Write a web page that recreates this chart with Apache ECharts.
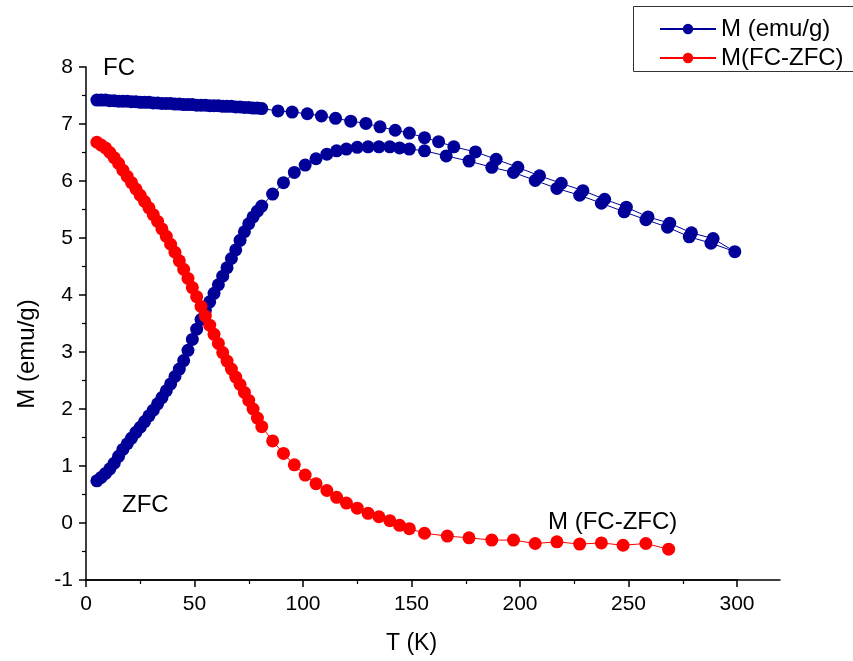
<!DOCTYPE html>
<html>
<head>
<meta charset="utf-8">
<script src="https://cdn.jsdelivr.net/npm/echarts@6/dist/echarts.min.js"></script>
<style>
html,body{margin:0;padding:0;background:#fff;}
#chart{width:853px;height:661px;}
</style>
</head>
<body>
<div id="chart"></div>
<script>
// ---- data ----
const denseT = [5,7,9,11,13,15,17,19,21,23,25,27,29,31,33,35,37,39,41,43,45,47,49,51,53,55,57,59,61,63,65,67,69,71,73,75,77,79,81];

const zfcT = denseT.concat([86,91,96,101,106,111,115.5,120,125,130,135,140,144.5,149,156,166,176.5,187,197,207,217,227.5,237.5,248,258,268,278,288,299]);
const zfcM = [0.74,0.80,0.87,0.95,1.05,1.17,1.29,1.39,1.49,1.59,1.68,1.78,1.88,1.98,2.09,2.20,2.32,2.44,2.57,2.70,2.85,3.03,3.22,3.40,3.57,3.73,3.88,4.03,4.18,4.33,4.48,4.64,4.79,4.96,5.11,5.25,5.37,5.47,5.56,
  5.77,5.97,6.15,6.28,6.39,6.47,6.53,6.56,6.59,6.60,6.60,6.60,6.58,6.56,6.53,6.44,6.35,6.24,6.15,6.01,5.87,5.75,5.61,5.46,5.32,5.19,5.02,4.91,4.76];

const fcT = denseT.concat([88.5,95,102,108.5,115,122,129,135.5,142.5,149,156,162.5,169.5,179.5,189,199,209,219,229,239,249,259,269,279,289]);
const fcM = [7.42,7.42,7.42,7.41,7.41,7.40,7.40,7.40,7.39,7.39,7.38,7.38,7.38,7.37,7.37,7.36,7.36,7.36,7.35,7.35,7.34,7.34,7.34,7.33,7.33,7.33,7.32,7.32,7.32,7.31,7.31,7.31,7.30,7.30,7.29,7.29,7.28,7.28,7.27,
  7.23,7.21,7.18,7.14,7.10,7.05,7.01,6.95,6.89,6.84,6.76,6.69,6.60,6.51,6.38,6.24,6.09,5.96,5.83,5.68,5.54,5.37,5.26,5.09,4.99];

const diffT = denseT.concat([86,91,96,101,106,111,115.5,120,125,130,135,140,144.5,149,156,166.5,176.5,187,197,207,217,227.5,237.5,247.5,258,268.5]);
const diffM = [6.68,6.63,6.58,6.50,6.41,6.31,6.19,6.08,5.97,5.86,5.75,5.64,5.53,5.41,5.29,5.16,5.03,4.89,4.75,4.60,4.45,4.29,4.13,3.97,3.80,3.63,3.47,3.31,3.15,2.99,2.84,2.70,2.56,2.43,2.29,2.15,2.00,1.84,1.69,
  1.44,1.22,1.02,0.84,0.69,0.57,0.45,0.35,0.26,0.17,0.11,0.04,-0.04,-0.10,-0.18,-0.23,-0.26,-0.30,-0.30,-0.36,-0.33,-0.37,-0.35,-0.39,-0.36,-0.46];

const seriesNames = ['M (emu/g)', 'M(FC-ZFC)'];
const xTitle = 'T (K)';
const yTitle = 'M (emu/g)';
const notes = ['FC', 'ZFC', 'M (FC-ZFC)'];

// ---- build ----
const blueData = [];
zfcT.forEach((t, i) => blueData.push([t, zfcM[i]]));
for (let i = fcT.length - 1; i >= 0; i--) blueData.push([fcT[i], fcM[i]]);
const redData = diffT.map((t, i) => [t, diffM[i]]);

const FONT = 'Liberation Sans, Arial, sans-serif';
const axisCommon = {
  axisLine: {show: true, onZero: false, lineStyle: {color: '#000', width: 1.5}},
  axisTick: {show: true, inside: false, length: 7, lineStyle: {color: '#000', width: 1.5}},
  minorTick: {show: true, splitNumber: 2, length: 4, lineStyle: {color: '#000', width: 1.2}},
  splitLine: {show: false},
  axisLabel: {color: '#000', fontSize: 21, fontFamily: FONT}
};

const chart = echarts.init(document.getElementById('chart'), null, {renderer: 'canvas'});
chart.setOption({
  backgroundColor: '#fff',
  animation: false,
  grid: [
    {left: 86, top: 67, width: 651, bottom: 81},
    {left: 86, top: 67, right: 73, bottom: 81}
  ],
  xAxis: [
    Object.assign({}, axisCommon, {
      type: 'value', gridIndex: 0, min: 0, max: 300, interval: 50,
      axisLabel: Object.assign({}, axisCommon.axisLabel, {margin: 14}),
      name: xTitle, nameLocation: 'middle', nameGap: 52,
      nameTextStyle: {color: '#000', fontSize: 23, fontFamily: FONT}
    }),
    {type: 'value', gridIndex: 1, min: 0, max: 1,
     axisLine: {show: true, onZero: false, lineStyle: {color: '#000', width: 1.5}},
     axisTick: {show: false}, axisLabel: {show: false}, splitLine: {show: false}}
  ],
  yAxis: [
    Object.assign({}, axisCommon, {
      type: 'value', gridIndex: 0, min: -1, max: 8, interval: 1,
      axisLabel: Object.assign({}, axisCommon.axisLabel, {margin: 13})
    }),
    {type: 'value', gridIndex: 1, show: false, min: 0, max: 1}
  ],
  legend: {
    orient: 'vertical', left: 633, top: 7,
    padding: [10, 10, 3, 26], itemGap: 5,
    itemWidth: 56, itemHeight: 13,
    borderWidth: 0,
    textStyle: {color: '#000', fontSize: 24, fontFamily: FONT, lineHeight: 24},
    data: seriesNames
  },
  series: [
    {name: seriesNames[0], type: 'line', xAxisIndex: 0, yAxisIndex: 0,
     data: blueData, symbol: 'circle', symbolSize: 13, showAllSymbol: true,
     itemStyle: {color: '#000099'}, lineStyle: {color: '#000099', width: 1},
     clip: false, z: 2},
    {name: seriesNames[1], type: 'line', xAxisIndex: 0, yAxisIndex: 0,
     data: redData, symbol: 'circle', symbolSize: 13, showAllSymbol: true,
     itemStyle: {color: '#ff0000'}, lineStyle: {color: '#ff0000', width: 1},
     clip: false, z: 3}
  ],
  graphic: [
    {type: 'rect', shape: {x: 633.5, y: 6.5, width: 260, height: 65},
     style: {fill: 'none', stroke: '#333', lineWidth: 1}, z: 0},
    {type: 'text', x: 27, y: 354, rotation: Math.PI / 2,
     style: {text: yTitle, fill: '#000', font: '24px ' + FONT, textAlign: 'center', textVerticalAlign: 'middle'}},
    {type: 'text', x: 103, y: 68,
     style: {text: notes[0], fill: '#000', font: '24px ' + FONT, textAlign: 'left', textVerticalAlign: 'middle'}},
    {type: 'text', x: 122, y: 505,
     style: {text: notes[1], fill: '#000', font: '24px ' + FONT, textAlign: 'left', textVerticalAlign: 'middle'}},
    {type: 'text', x: 548, y: 522,
     style: {text: notes[2], fill: '#000', font: '24px ' + FONT, textAlign: 'left', textVerticalAlign: 'middle'}}
  ]
});
</script>
</body>
</html>
